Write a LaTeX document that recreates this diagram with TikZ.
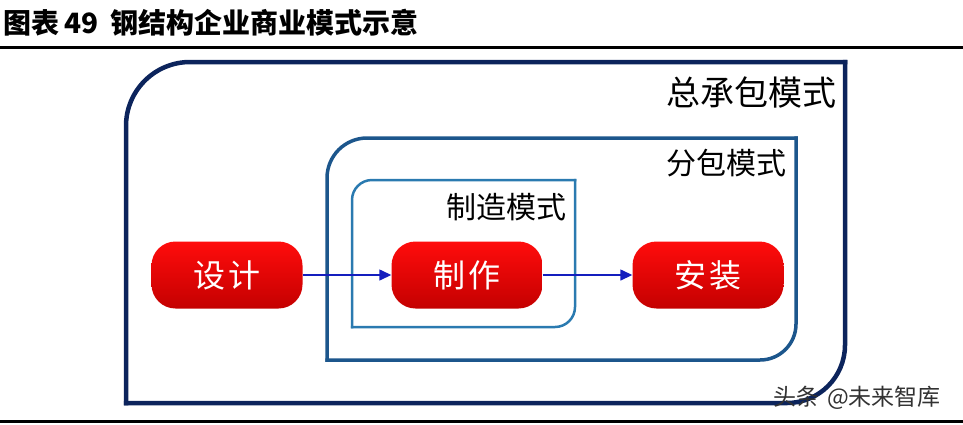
\documentclass[tikz,border=0pt]{standalone}
\usepackage{fontspec}
\usepackage{xcolor}
\usepackage{tikz}
\usetikzlibrary{arrows.meta}
\newfontfamily\cjk{Noto Sans CJK SC}
\definecolor{smNavy}   {RGB}{ 12, 36, 92}
\definecolor{smBlue}   {RGB}{ 28, 86,140}
\definecolor{smSky}    {RGB}{ 42,122,176}
\definecolor{smRedTop} {RGB}{255, 12, 12}
\definecolor{smRedBot} {RGB}{196,  0,  0}
\definecolor{smArrow}  {RGB}{ 20, 30,190}
\definecolor{smGrey}   {RGB}{ 50, 50, 50}

\begin{document}
\begin{tikzpicture}[
  x=1pt,y=-1pt,
  every node/.style={font=\cjk},
  frame/.style={line cap=rect,line join=round},
  lab/.style={anchor=east,inner sep=0pt},
  stage/.style={rounded corners=24pt,minimum width=151pt,minimum height=67pt,
    top color=smRedTop,bottom color=smRedBot,draw=none,text=white,
    font=\cjk\fontsize{32}{32}\selectfont},
  flow/.style={-{Triangle[length=12pt,width=11pt]},line width=1.4pt,smArrow}
]
\useasboundingbox (0,0) rectangle (963,424);

% title and rules
\node[anchor=west,inner sep=0pt,font=\cjk\bfseries\fontsize{28}{28}\selectfont]
   (title) at (3,23) {图表\hspace{5pt}49\hspace{12pt}钢结构企业商业模式示意};
\draw[line width=3.5pt] (0,47.5) -- (963,47.5);
\draw[line width=3.5pt] (0,421.5) -- (963,421.5);

% nested frames
\draw[frame,smNavy,line width=4.5pt,rounded corners=64pt] (126,403) |- (845,62);
\draw[frame,smNavy,line width=4.5pt,rounded corners=58pt] (845,62) |- (126,403);
\draw[frame,smBlue,line width=3.5pt,rounded corners=40pt] (327,360) |- (796,138);
\draw[frame,smBlue,line width=3.5pt,rounded corners=36pt] (796,138) |- (327,360);
\draw[frame,smSky,line width=2.5pt,rounded corners=20pt] (352,327) |- (575,180);
\draw[frame,smSky,line width=2.5pt,rounded corners=20pt] (575,180) |- (352,327);

\node[lab,font=\cjk\fontsize{34}{34}\selectfont] (epc) at (837,93) {总承包模式};
\node[lab,font=\cjk\fontsize{30}{30}\selectfont] (sub) at (787,163) {分包模式};
\node[lab,font=\cjk\fontsize{30}{30}\selectfont] (mfg) at (567,207) {制造模式};

% stages
\node[stage] (design)  at (227,275) {设\hspace{3pt}计};
\node[stage] (make)    at (467,275) {制\hspace{3pt}作};
\node[stage] (install) at (708,275) {安\hspace{3pt}装};
\draw[flow] (design) -- (make);
\draw[flow] (make) -- (install);

\node[anchor=west,inner sep=0pt,text=smGrey,font=\cjk\fontsize{23}{23}\selectfont]
   (mark) at (773,398) {头条\hspace{8pt}@未来智库};
\end{tikzpicture}
\end{document}
